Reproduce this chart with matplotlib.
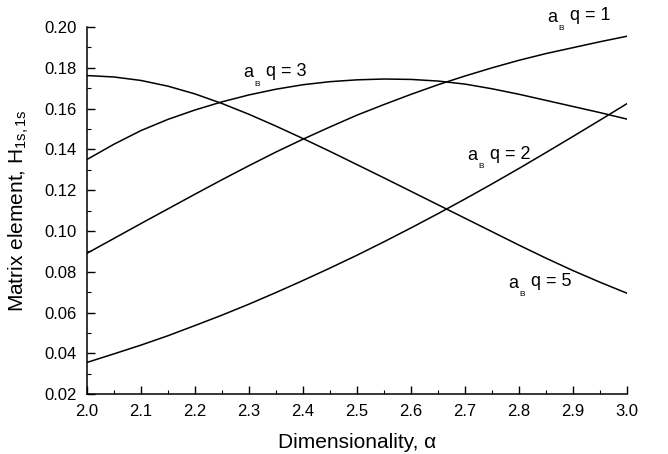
import matplotlib
matplotlib.use("Agg")
import matplotlib.pyplot as plt
from matplotlib.ticker import MultipleLocator, FormatStrFormatter

plt.rcParams['font.family'] = ['Liberation Sans', 'DejaVu Sans']
plt.rcParams['mathtext.fontset'] = 'custom'
plt.rcParams['mathtext.rm'] = 'Liberation Sans'
plt.rcParams['mathtext.it'] = 'Liberation Sans:italic'

# dimensionality alpha
alpha = [2.00, 2.05, 2.10, 2.15, 2.20, 2.25, 2.30, 2.35, 2.40, 2.45, 2.50,
         2.55, 2.60, 2.65, 2.70, 2.75, 2.80, 2.85, 2.90, 2.95, 3.00]
# matrix element H_1s,1s for each a_B q
h_q1 = [0.0890, 0.0963, 0.1036, 0.1108, 0.1180, 0.1251, 0.1320, 0.1387, 0.1450, 0.1510, 0.1568,
        0.1620, 0.1670, 0.1717, 0.1760, 0.1800, 0.1837, 0.1870, 0.1899, 0.1928, 0.1955]
h_q2 = [0.0355, 0.0397, 0.0440, 0.0486, 0.0536, 0.0587, 0.0641, 0.0698, 0.0757, 0.0818, 0.0881,
        0.0947, 0.1015, 0.1085, 0.1157, 0.1231, 0.1307, 0.1385, 0.1464, 0.1544, 0.1625]
h_q3 = [0.1350, 0.1425, 0.1492, 0.1547, 0.1593, 0.1633, 0.1667, 0.1695, 0.1717, 0.1732, 0.1741,
        0.1745, 0.1743, 0.1735, 0.1720, 0.1697, 0.1670, 0.1640, 0.1610, 0.1580, 0.1548]
h_q5 = [0.1762, 0.1755, 0.1738, 0.1710, 0.1672, 0.1625, 0.1572, 0.1514, 0.1453, 0.1390, 0.1325,
        0.1260, 0.1194, 0.1128, 0.1062, 0.0996, 0.0930, 0.0866, 0.0805, 0.0748, 0.0694]

# curve label anchor ("a" position) for each curve
labels = ['1', '2', '3', '5']
label_x = [2.861, 2.713, 2.298, 2.789]
label_y = [0.2048, 0.137, 0.1775, 0.0744]

fig = plt.figure(figsize=(6.68, 4.54), dpi=100)
ax = fig.add_axes([0.130, 0.132, 0.809, 0.8085])

for h in (h_q1, h_q2, h_q3, h_q5):
    ax.plot(alpha, h, color='black', lw=1.1)

for q, lx, ly in zip(labels, label_x, label_y):
    ax.annotate('a', (lx, ly), ha='center', va='center', fontsize=13,
                annotation_clip=False)
    ax.annotate('B', (lx, ly), xytext=(6.5, -8), textcoords='offset points',
                ha='center', va='center', fontsize=6, annotation_clip=False)
    ax.annotate('q = ' + q, (lx, ly), xytext=(13, 1), textcoords='offset points',
                ha='left', va='center', fontsize=13, annotation_clip=False)

ax.set_xlim(2.0, 3.0)
ax.set_ylim(0.02, 0.20)
ax.xaxis.set_major_locator(MultipleLocator(0.1))
ax.xaxis.set_minor_locator(MultipleLocator(0.05))
ax.yaxis.set_major_locator(MultipleLocator(0.02))
ax.yaxis.set_minor_locator(MultipleLocator(0.01))
ax.xaxis.set_major_formatter(FormatStrFormatter('%.1f'))
ax.yaxis.set_major_formatter(FormatStrFormatter('%.2f'))
ax.tick_params(which='major', direction='in', length=6, width=1, labelsize=12, pad=7)
ax.tick_params(which='minor', direction='in', length=3, width=0.8)

ax.spines['top'].set_visible(False)
ax.spines['right'].set_visible(False)
ax.spines['left'].set_linewidth(1.1)
ax.spines['bottom'].set_linewidth(1.1)

ax.set_xlabel('Dimensionality, \u03b1', fontsize=15, labelpad=10)
ax.set_ylabel('Matrix element, H$_{\\mathrm{1s,1s}}$', fontsize=15, labelpad=10)

fig.savefig('out.png', dpi=100)
